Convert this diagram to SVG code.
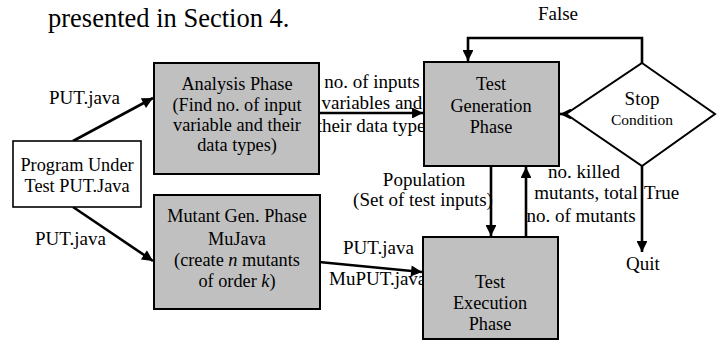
<svg xmlns="http://www.w3.org/2000/svg" width="717" height="341" viewBox="0 0 717 341">
<style>
text{font-family:"Liberation Serif","Times New Roman","DejaVu Serif",serif;fill:#000;}
.lbl{font-size:19px;}
.box{font-size:18.3px;text-anchor:middle;}
.mid{text-anchor:middle;}
.proc{fill:#c0c0c0;stroke:#000;stroke-width:2;}
.plain{fill:#fff;stroke:#000;stroke-width:1.6;}
.edge{fill:none;stroke:#000;stroke-width:2.6;}
</style>
<defs>
<marker id="ah" viewBox="0 0 10 10" refX="10" refY="5" markerWidth="5.4" markerHeight="4.2" orient="auto" markerUnits="strokeWidth">
<path d="M0,0 L10,5 L0,10 z" fill="#000"/>
</marker>
</defs>
<rect width="717" height="341" fill="#fff"/>
<g font-family="Liberation Serif, Times New Roman, serif">
<text x="48" y="27" font-size="26.5">presented in Section 4.</text>
<g id="connectors">
<line class="edge" x1="73" y1="141" x2="153" y2="98" marker-end="url(#ah)"/>
<text class="lbl" x="49" y="104">PUT.java</text>
<line class="edge" x1="73" y1="207" x2="153" y2="261" marker-end="url(#ah)"/>
<text class="lbl" x="35" y="245">PUT.java</text>
<line class="edge" x1="319" y1="113" x2="423" y2="113" marker-end="url(#ah)"/>
<text class="lbl mid" x="372" y="88">no. of inputs</text>
<text class="lbl mid" x="372" y="109">variables and</text>
<text class="lbl mid" x="371" y="132">their data type</text>
<line class="edge" x1="319" y1="262" x2="422" y2="272" marker-end="url(#ah)"/>
<text class="lbl" x="343" y="254">PUT.java</text>
<text class="lbl" x="329" y="285">MuPUT.java</text>
<line class="edge" x1="491" y1="166" x2="491" y2="236" marker-end="url(#ah)"/>
<text class="lbl mid" x="424" y="186">Population</text>
<text class="lbl mid" x="423" y="206">(Set of test inputs)</text>
<line class="edge" x1="526" y1="237" x2="526" y2="167" marker-end="url(#ah)"/>
<text class="lbl mid" x="584" y="178">no. killed</text>
<text class="lbl mid" x="586" y="199">mutants, total</text>
<text class="lbl mid" x="581" y="222">no. of mutants</text>
<polyline class="edge" points="642,63 642,38 468,38 468,61" marker-end="url(#ah)"/>
<text class="lbl mid" x="558" y="20">False</text>
<line class="edge" x1="566" y1="114" x2="560" y2="114" marker-end="url(#ah)"/>
<line class="edge" x1="642" y1="166" x2="642" y2="252" marker-end="url(#ah)"/>
<text class="lbl" x="644" y="199">True</text>
<text class="lbl mid" x="643" y="270">Quit</text>
</g>
<g id="program">
<rect class="plain" x="13" y="141" width="128" height="66"/>
<text class="box" x="77" y="171">Program Under</text>
<text class="box" x="77" y="192">Test PUT.Java</text>
</g>
<g id="analysis">
<rect class="proc" x="154" y="63" width="165" height="111"/>
<text class="box" x="237" y="90" font-size="17.5">Analysis Phase</text>
<text class="box" x="237" y="111" font-size="17.5">(Find no. of input</text>
<text class="box" x="237" y="131" font-size="17.5">variable and their</text>
<text class="box" x="237" y="151" font-size="17.5">data types)</text>
</g>
<g id="mutant">
<rect class="proc" x="154" y="195" width="166" height="114"/>
<text class="box" x="237" y="222">Mutant Gen. Phase</text>
<text class="box" x="237" y="245">MuJava</text>
<text class="box" x="237" y="266">(create <tspan font-style="italic">n</tspan> mutants</text>
<text class="box" x="237" y="287">of order <tspan font-style="italic">k</tspan>)</text>
</g>
<g id="testgen">
<rect class="proc" x="424" y="62" width="135" height="104"/>
<text class="box" x="491" y="90">Test</text>
<text class="box" x="491" y="112">Generation</text>
<text class="box" x="491" y="133">Phase</text>
</g>
<g id="testexec">
<rect class="proc" x="423" y="237" width="135" height="102"/>
<text class="box" x="490" y="288">Test</text>
<text class="box" x="490" y="309">Execution</text>
<text class="box" x="490" y="330">Phase</text>
</g>
<g id="stop">
<polygon points="642,63 715,114 642,166 566,114" fill="#fff" stroke="#000" stroke-width="2"/>
<text class="mid" x="642" y="105" font-size="19">Stop</text>
<text class="mid" x="642" y="125" font-size="15.5">Condition</text>
</g>
</g>
</svg>
